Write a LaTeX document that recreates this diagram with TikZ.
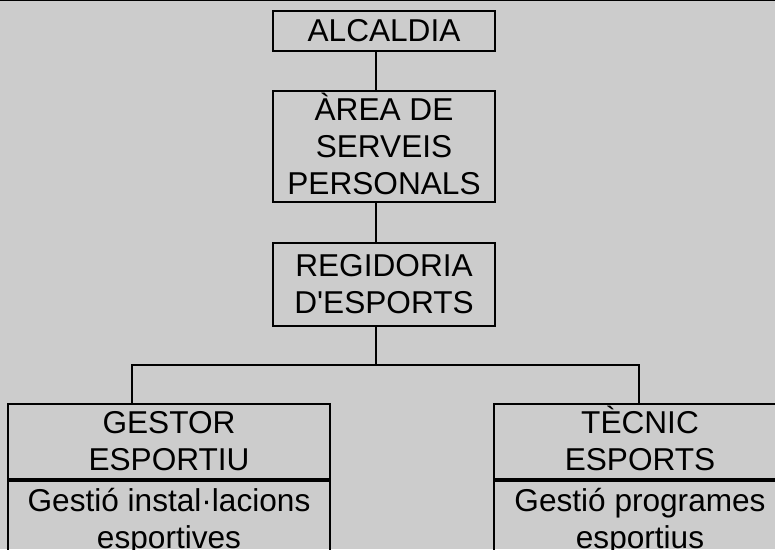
\documentclass[tikz,border=0pt]{standalone}
\usepackage{fontspec}
\newfontfamily\arialf{Liberation Sans}
\newcommand\flatacc[2]{\smash{#1}\vphantom{#2}}
\begin{document}
\begin{tikzpicture}[x=1pt,y=-1pt,
  box/.style={draw=black,line width=1.8pt,rectangle,inner sep=0pt,align=center,
    font=\arialf\fontsize{31.6}{36.8}\selectfont},
  conn/.style={draw=black,line width=1.8pt}]
\useasboundingbox (0,0) rectangle (775,549);
\fill[black!20] (0,0) rectangle (775,549);
\clip (0,0) rectangle (775,549);
\draw[line width=1pt] (0,0.5) -- (775,0.5);
\node[box,minimum width=222pt,minimum height=40pt] (alc) at (384,31) {ALCALDIA};
\node[box,minimum width=222pt,minimum height=111pt] (area) at (384,146.5) {\flatacc{À}{A}REA DE\\SERVEIS\\PERSONALS};
\node[box,minimum width=222pt,minimum height=83pt] (reg) at (384,284.5) {REGIDORIA\\D'ESPORTS};
\node[box,minimum width=322pt,minimum height=75pt] (gest) at (169,441.5) {GESTOR\\ESPORTIU};
\node[box,minimum width=322pt,minimum height=81pt,anchor=north] (gesti) at (gest.south) {Gestió instal·lacions\\esportives};
\node[box,minimum width=292pt,minimum height=75pt] (tec) at (640,441.5) {T\flatacc{È}{E}CNIC\\ESPORTS};
\node[box,minimum width=292pt,minimum height=81pt,anchor=north] (tecp) at (tec.south) {Gestió programes\\esportius};
\coordinate (spine) at (376,0);
\coordinate (bar) at (0,365);
\coordinate (ldrop) at (132,0);
\coordinate (rdrop) at (639,0);
\draw[conn] (alc.south -| spine) -- (area.north -| spine);
\draw[conn] (area.south -| spine) -- (reg.north -| spine);
\draw[conn] (reg.south -| spine) -- (bar -| spine);
\draw[conn] (gest.north -| ldrop) -- (bar -| ldrop) -- (bar -| rdrop) -- (tec.north -| rdrop);
\end{tikzpicture}
\end{document}
